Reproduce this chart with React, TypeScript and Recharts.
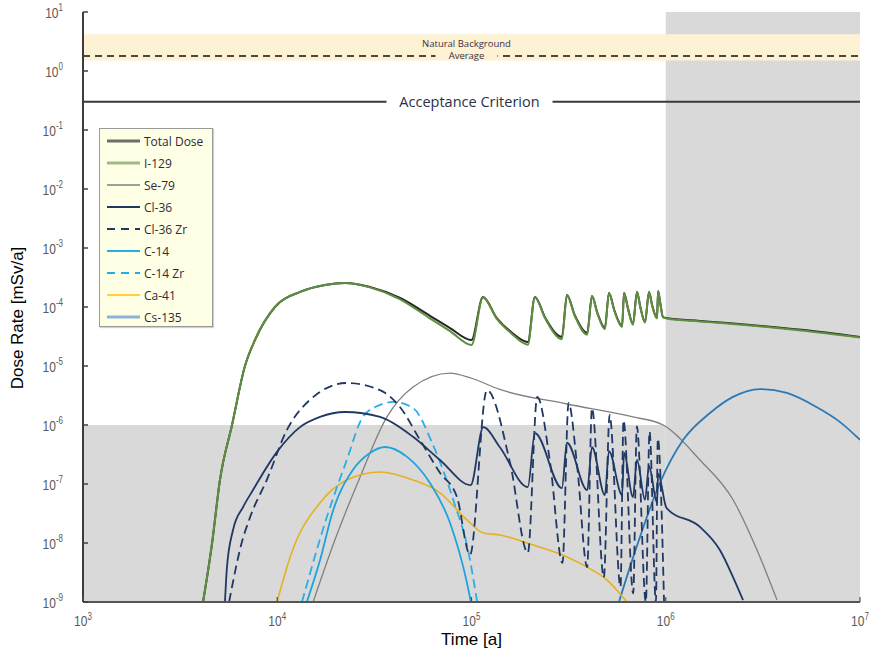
import React from "react";
import { LineChart, Line, XAxis, YAxis, ReferenceArea, ReferenceLine, Legend } from "recharts";

// axes: time [a] and dose rate [mSv/a]
const timeTicks = [1e3, 1e4, 1e5, 1e6, 1e7];
const doseTicks = [1e1, 1e0, 1e-1, 1e-2, 1e-3, 1e-4, 1e-5, 1e-6, 1e-7, 1e-8, 1e-9];

// reference levels
const backgroundBand = [1.5, 4.2];
const backgroundAverage = 1.8;
const acceptanceCriterion = 0.3;
const shadedDose = 1e-6;
const shadedTime = 1e6;

// total dose and I-129 share the same time points
const totalT = [
  4150, 4620, 5070, 5850, 6820, 7680, 9730, 13100, 17600, 22300, 30000, 42900, 61100, 77500, 100000,
  114600, 135000, 160000, 195000,
  212000, 240000, 292000,
  310000, 340000, 394000,
  417000, 445000, 486000,
  510000, 545000, 596000,
  610000, 640000, 678000,
  711000, 740000, 782000,
  820000, 850000, 902000,
  913000, 940000, 968000,
  1010000, 1500000, 2000000, 5000000, 10000000,
];
const totalV = [
  1e-9, 1e-8, 1.17e-7, 1e-6, 1e-5, 2.76e-5, 1e-4, 1.8e-4, 2.36e-4, 2.55e-4, 2.19e-4, 1.42e-4, 7.1e-5, 4.4e-5, 2.76e-5,
  1.48e-4, 6.5e-5, 3.77e-5, 2.55e-5,
  1.48e-4, 6.5e-5, 3.1e-5,
  1.6e-4, 7.3e-5, 3.63e-5,
  1.54e-4, 7.9e-5, 4.4e-5,
  1.73e-4, 8.6e-5, 4.78e-5,
  1.73e-4, 9.3e-5, 5.15e-5,
  1.8e-4, 1.0e-4, 5.57e-5,
  1.8e-4, 1.09e-4, 6.5e-5,
  1.87e-4, 1.09e-4, 6.77e-5,
  6.5e-5, 5.8e-5, 5.4e-5, 4.1e-5, 3.1e-5,
];
const i129V = [
  1e-9, 1e-8, 1.17e-7, 1e-6, 1e-5, 2.76e-5, 1e-4, 1.8e-4, 2.36e-4, 2.55e-4, 2.15e-4, 1.35e-4, 6.4e-5, 3.9e-5, 2.27e-5,
  1.45e-4, 6.3e-5, 3.6e-5, 2.3e-5,
  1.46e-4, 6.3e-5, 2.85e-5,
  1.58e-4, 7.1e-5, 3.4e-5,
  1.52e-4, 7.7e-5, 4.2e-5,
  1.71e-4, 8.4e-5, 4.6e-5,
  1.71e-4, 9.1e-5, 5.0e-5,
  1.78e-4, 9.8e-5, 5.45e-5,
  1.78e-4, 1.07e-4, 6.4e-5,
  1.85e-4, 1.07e-4, 6.65e-5,
  6.4e-5, 5.7e-5, 5.3e-5, 4.0e-5, 3.05e-5,
];

const se79T = [15300, 19800, 26700, 36700, 50000, 77500, 100000, 140000, 310000, 678000, 970000, 1500000, 2220000, 2950000, 3740000];
const se79V = [1e-9, 1.12e-8, 1.32e-7, 1.37e-6, 4.4e-6, 7.6e-6, 6.2e-6, 4.0e-6, 2.27e-6, 1.37e-6, 1e-6, 2.55e-7, 5.4e-8, 7.6e-9, 1.08e-9];

const cl36T = [
  5380, 5510, 5920, 6670, 7500, 9970, 13100, 16600, 22300, 33800, 50000, 68800, 99000,
  115000, 140000, 195000, 212000, 292000, 310000, 394000, 417000, 486000, 510000,
  596000, 610000, 678000, 711000, 782000, 820000, 902000, 913000,
  1010000, 1500000, 1900000, 2220000, 2500000,
];
const cl36V = [
  1e-9, 3.9e-9, 1.66e-8, 4.07e-8, 7.9e-8, 3.5e-7, 9.2e-7, 1.37e-6, 1.66e-6, 1.37e-6, 6.3e-7, 2.55e-7, 9.6e-8,
  9.2e-7, 4.2e-7, 8.9e-8, 7.3e-7, 8.5e-8, 5.0e-7, 7.9e-8, 4.2e-7, 6.5e-8, 3.6e-7,
  6.5e-8, 3.35e-7, 6.0e-8, 2.55e-7, 5.4e-8, 2.0e-7, 4.8e-8, 1.5e-7,
  3.9e-8, 1.87e-8, 7.6e-9, 2.65e-9, 1.08e-9,
];

const cl36ZrT = [
  5650, 5920, 6500, 7250, 8860, 11200, 14700, 22800, 33800, 42900, 54300, 68800, 84200, 98200,
  120000, 158000, 195000,
  218000, 254000, 294000,
  316000, 350000, 394000,
  417000, 480000,
  514000, 585000,
  606000, 680000,
  710000, 790000,
  825000, 890000,
  910000, 980000,
];
const cl36ZrV = [
  1e-9, 2.2e-9, 9e-9, 2.75e-8, 1.2e-7, 8.2e-7, 2.65e-6, 5.15e-6, 3.9e-6, 2.0e-6, 5.6e-7, 1.55e-7, 6.0e-8, 6.3e-9,
  3.9e-6, 2.27e-7, 6.8e-9,
  3.0e-6, 2.27e-7, 4.6e-9,
  2.36e-6, 2.0e-7, 3.9e-9,
  1.94e-6, 2.6e-9,
  1.48e-6, 1.8e-9,
  1.2e-6, 1.4e-9,
  9.5e-7, 1e-9,
  7.8e-7, 1e-9,
  5.9e-7, 1e-9,
];

const c14T = [14200, 16600, 19400, 24500, 30000, 35900, 46600, 61100, 77500, 94800, 99300];
const c14V = [1e-9, 5.1e-9, 3.6e-8, 1.73e-7, 3.35e-7, 4.24e-7, 2.88e-7, 1.04e-7, 2.2e-8, 2.1e-9, 1e-9];

const c14ZrT = [13400, 18000, 22800, 27600, 33800, 39400, 50000, 63400, 82200, 94800, 107000];
const c14ZrV = [1e-9, 2.75e-8, 2.55e-7, 1.37e-6, 2.19e-6, 2.46e-6, 1.94e-6, 4.57e-7, 4.4e-8, 9.2e-9, 1e-9];

const ca41T = [9970, 12000, 16600, 22800, 33800, 50000, 68800, 94800, 115000, 140000, 193000, 225000, 310000, 394000, 499000, 631000];
const ca41V = [1e-9, 7.6e-9, 4.8e-8, 1.17e-7, 1.6e-7, 1.17e-7, 7.1e-8, 2.46e-8, 1.48e-8, 1.37e-8, 1.0e-8, 8.5e-9, 5.8e-9, 3.9e-9, 2.35e-9, 1e-9];

const cs135T = [574000, 678000, 933000, 1230000, 1690000, 2220000, 3050000, 4200000, 6000000, 7900000, 10000000];
const cs135V = [1e-9, 5.6e-9, 1.04e-7, 5.6e-7, 1.6e-6, 3.0e-6, 4.07e-6, 3.5e-6, 2.0e-6, 1.12e-6, 5.6e-7];

const pts = (t: number[], v: number[]) => t.map((x, i) => ({ t: x, v: v[i] }));

const series = [
  { name: "Total Dose", data: pts(totalT, totalV), color: "#262626", width: 2, dash: undefined, lg: "#6e6e66", lw: 3 },
  { name: "I-129", data: pts(totalT, i129V), color: "#5f8f3e", width: 2, dash: undefined, lg: "#9dbb82", lw: 3 },
  { name: "Se-79", data: pts(se79T, se79V), color: "#808080", width: 1.3, dash: undefined, lg: "#7f7f7f", lw: 1.3 },
  { name: "Cl-36", data: pts(cl36T, cl36V), color: "#1f3864", width: 1.8, dash: undefined, lg: "#1f3864", lw: 2 },
  { name: "Cl-36 Zr", data: pts(cl36ZrT, cl36ZrV), color: "#1f3864", width: 1.8, dash: "9 5", lg: "#1f3864", lw: 2 },
  { name: "C-14", data: pts(c14T, c14V), color: "#1ea3dc", width: 1.8, dash: undefined, lg: "#22aee8", lw: 1.8 },
  { name: "C-14 Zr", data: pts(c14ZrT, c14ZrV), color: "#2aaee6", width: 1.8, dash: "9 5", lg: "#22aee8", lw: 1.8 },
  { name: "Ca-41", data: pts(ca41T, ca41V), color: "#e6b020", width: 1.6, dash: undefined, lg: "#ffc000", lw: 1.5 },
  { name: "Cs-135", data: pts(cs135T, cs135V), color: "#2c79b6", width: 1.8, dash: undefined, lg: "#8db3d6", lw: 3 },
];
const drawOrder = ["Se-79", "Cs-135", "Ca-41", "C-14 Zr", "C-14", "Cl-36 Zr", "Cl-36", "Total Dose", "I-129"];

const tickText = { fontFamily: "'Liberation Sans', Arial, sans-serif", fill: "#5a5a5a" };
const noteFont = "'Open Sans', 'Liberation Sans', sans-serif";

function exponent(v: number) {
  return String(Math.round(Math.log10(v)));
}

function LeftTick(p: any) {
  const { x, y, payload } = p;
  return (
    <g>
      <line x1={x} x2={x + 5} y1={y} y2={y} stroke="#404040" strokeWidth={1.5} />
      <g transform={`translate(${x - 20},${y + 5.5}) scale(0.8,1)`}>
        <text textAnchor="end" fontSize={15} {...tickText}>
          10<tspan fontSize={10} dy={-6.5}>{exponent(payload.value)}</tspan>
        </text>
      </g>
    </g>
  );
}

function BottomTick(p: any) {
  const { x, y, payload } = p;
  return (
    <g>
      <line x1={x} x2={x} y1={y} y2={y - 5} stroke="#505050" strokeWidth={1.2} />
      <g transform={`translate(${x},${y + 24}) scale(0.8,1)`}>
        <text textAnchor="middle" fontSize={15} {...tickText}>
          10<tspan fontSize={10} dy={-6.5}>{exponent(payload.value)}</tspan>
        </text>
      </g>
    </g>
  );
}

function TopTick(p: any) {
  const { x, y } = p;
  return <line x1={x} x2={x} y1={y} y2={y + 5} stroke="#505050" strokeWidth={1.2} />;
}

function RightTick(p: any) {
  const { x, y } = p;
  return <line x1={x} x2={x - 5} y1={y} y2={y} stroke="#505050" strokeWidth={1.2} />;
}

function LegendBox() {
  return (
    <div
      style={{
        width: 114,
        height: 199,
        boxSizing: "border-box",
        border: "1px solid #9a9a9a",
        background: "#ffffe6",
        boxShadow: "1px 1px 1px rgba(0,0,0,0.18)",
        paddingTop: 1,
      }}
    >
      {series.map((s) => (
        <div key={s.name} style={{ display: "flex", alignItems: "center", height: 22 }}>
          <svg width={41} height={10} style={{ flex: "none" }}>
            <line x1={7} x2={40} y1={5} y2={5} stroke={s.lg} strokeWidth={s.lw} strokeDasharray={s.dash ? "8 6" : undefined} />
          </svg>
          <span style={{ marginLeft: 3, fontFamily: noteFont, fontSize: 12, color: "#2b2b3b", whiteSpace: "nowrap" }}>
            {s.name}
          </span>
        </div>
      ))}
    </div>
  );
}

export default function App() {
  return (
    <div style={{ position: "absolute", left: 0, top: 0 }}>
      <LineChart width={872} height={655} margin={{ top: 12, right: 12, bottom: 0, left: 0 }}>
        <XAxis
          xAxisId="b"
          dataKey="t"
          type="number"
          scale="log"
          domain={[1e3, 1e7]}
          ticks={timeTicks}
          interval={0}
          allowDataOverflow
          height={53}
          tickSize={0}
          tickMargin={0}
          tickLine={false}
          axisLine={{ stroke: "#555555", strokeWidth: 2 }}
          tick={BottomTick}
          label={{
            value: "Time [a]",
            position: "insideBottom",
            offset: 10,
            fill: "#000",
            fontSize: 17,
            fontFamily: "'Liberation Sans', Arial, sans-serif",
          }}
        />
        <XAxis
          xAxisId="t"
          orientation="top"
          type="number"
          scale="log"
          domain={[1e3, 1e7]}
          ticks={timeTicks}
          interval={0}
          allowDataOverflow
          height={0}
          tickSize={0}
          tickMargin={0}
          tickLine={false}
          axisLine={{ stroke: "#8c8c8c", strokeWidth: 1.2 }}
          tick={TopTick}
        />
        <YAxis
          yAxisId="l"
          type="number"
          scale="log"
          domain={[1e-9, 1e1]}
          ticks={doseTicks}
          interval={0}
          allowDataOverflow
          width={83}
          tickSize={0}
          tickMargin={0}
          tickLine={false}
          axisLine={{ stroke: "#3c3c3c", strokeWidth: 2 }}
          tick={LeftTick}
          label={(p: any) => {
            const vb = p.viewBox || { x: 0, y: 12, width: 83, height: 590 };
            const cx = vb.x + 23;
            const cy = vb.y + vb.height / 2 + 11;
            return (
              <text
                transform={`translate(${cx},${cy}) rotate(-90)`}
                textAnchor="middle"
                fontSize={17}
                fill="#000"
                fontFamily="'Liberation Sans', Arial, sans-serif"
              >
                Dose Rate [mSv/a]
              </text>
            );
          }}
        />
        <YAxis
          yAxisId="r"
          orientation="right"
          type="number"
          scale="log"
          domain={[1e-9, 1e1]}
          ticks={doseTicks}
          interval={0}
          allowDataOverflow
          width={0}
          tickSize={0}
          tickMargin={0}
          tickLine={false}
          axisLine={{ stroke: "#8c8c8c", strokeWidth: 1.5 }}
          tick={RightTick}
        />

        <ReferenceArea xAxisId="b" yAxisId="l" x1={1e3} x2={shadedTime} y1={1e-9} y2={shadedDose} fill="#d9d9d9" fillOpacity={1} stroke="none" />
        <ReferenceArea xAxisId="b" yAxisId="l" x1={shadedTime} x2={1e7} y1={1e-9} y2={1e1} fill="#d9d9d9" fillOpacity={1} stroke="none" />
        <ReferenceArea
          xAxisId="b"
          yAxisId="l"
          x1={1e3}
          x2={1e7}
          y1={backgroundBand[0]}
          y2={backgroundBand[1]}
          fill="#fdf2d4"
          fillOpacity={1}
          stroke="none"
        />
        <ReferenceLine
          xAxisId="b"
          yAxisId="l"
          y={backgroundAverage}
          stroke="#111"
          strokeWidth={1.5}
          strokeDasharray="7 5"
          label={(p: any) => {
            const vb = p.viewBox;
            const cx = vb.x + vb.width / 2 - 5;
            return (
              <g fontFamily={noteFont} fontSize={9.5} fill="#3b3045" textAnchor="middle">
                <rect x={cx - 31} y={vb.y - 3} width={62} height={6} fill="#fdf2d4" />
                <text x={cx} y={vb.y - 9}>Natural Background</text>
                <text x={cx} y={vb.y + 3.5}>Average</text>
              </g>
            );
          }}
        />
        <ReferenceLine
          xAxisId="b"
          yAxisId="l"
          y={acceptanceCriterion}
          stroke="#3a3a3a"
          strokeWidth={2}
          label={(p: any) => {
            const vb = p.viewBox;
            const cx = vb.x + vb.width / 2 - 2;
            return (
              <g>
                <rect x={cx - 83} y={vb.y - 4} width={166} height={8} fill="#ffffff" />
                <text x={cx} y={vb.y + 5} textAnchor="middle" fontFamily={noteFont} fontSize={14.5} fill="#2a3145">
                  Acceptance Criterion
                </text>
              </g>
            );
          }}
        />

        {drawOrder.map((n) => {
          const s = series.find((q) => q.name === n)!;
          return (
            <Line
              key={s.name}
              xAxisId="b"
              yAxisId="l"
              data={s.data}
              dataKey="v"
              name={s.name}
              type="monotone"
              stroke={s.color}
              strokeWidth={s.width}
              strokeDasharray={s.dash}
              dot={false}
              activeDot={false}
              isAnimationActive={false}
            />
          );
        })}

        <Legend
          layout="vertical"
          align="center"
          verticalAlign="middle"
          content={() => <LegendBox />}
          wrapperStyle={{ position: "absolute", left: 99, top: 128, width: 114, height: 199, margin: 0 }}
        />
      </LineChart>
    </div>
  );
}
